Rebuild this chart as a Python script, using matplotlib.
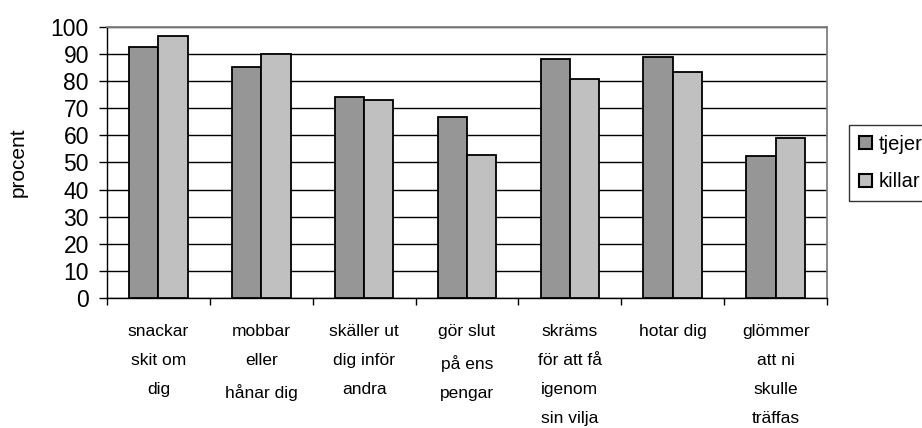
import numpy as np
import matplotlib.pyplot as plt

plt.rcParams['font.family'] = ['Liberation Sans', 'DejaVu Sans']

kategorier = ["snackar\nskit om\ndig", "mobbar\neller\nhånar dig", "skäller ut\ndig inför\nandra",
              "gör slut\npå ens\npengar", "skräms\nför att få\nigenom\nsin vilja", "hotar dig",
              "glömmer\natt ni\nskulle\nträffas"]
tjejer = [92.7, 85.3, 74.3, 66.9, 88.3, 89.0, 52.3]
killar = [96.5, 89.9, 73.0, 52.9, 80.9, 83.4, 58.9]
yticks = list(range(0, 101, 10))

fig = plt.figure(figsize=(9.22, 4.28), dpi=100)
ax = fig.add_axes([0.116, 0.304, 0.781, 0.633])

x = np.arange(len(kategorier))
w = 0.285
ax.bar(x - w / 2, tjejer, w, color='#969696', edgecolor='black', linewidth=1.3, label='tjejer', zorder=3)
ax.bar(x + w / 2, killar, w, color='#c0c0c0', edgecolor='black', linewidth=1.3, label='killar', zorder=3)

ax.set_xlim(-0.5, len(kategorier) - 0.5)
ax.set_ylim(0, 100)
ax.set_yticks(yticks)
ax.set_yticklabels([str(v) for v in yticks], fontsize=16.5)
ax.yaxis.grid(True, color='black', linewidth=1, zorder=0)
ax.tick_params(axis='y', length=6, pad=7, width=1)

# tick marks at category boundaries, labels at centres
ax.set_xticks(np.arange(len(kategorier) + 1) - 0.5)
ax.set_xticklabels([])
ax.tick_params(axis='x', length=5, width=1, direction='out')
ax.set_xticks(x, minor=True)
ax.set_xticklabels(kategorier, minor=True, fontsize=12.5, linespacing=2.15, va='top')
ax.tick_params(axis='x', which='minor', length=0, pad=19)

for s in ['top', 'right']:
    ax.spines[s].set_color('#808080')
    ax.spines[s].set_linewidth(1.3)
for s in ['left', 'bottom']:
    ax.spines[s].set_color('black')
    ax.spines[s].set_linewidth(1)

ax.set_ylabel('procent', fontsize=15)
ax.yaxis.set_label_coords(-0.11, 0.5)

leg = fig.legend(loc='upper left', bbox_to_anchor=(0.921, 0.708), fontsize=14.5, frameon=True,
                 fancybox=False, edgecolor='black', handlelength=0.62, handleheight=0.62,
                 handletextpad=0.35, borderpad=0.5, labelspacing=0.9, borderaxespad=0)
leg.get_frame().set_linewidth(1)
for h in leg.legend_handles:
    h.set_linewidth(1.5)

fig.savefig('out.png', dpi=100)
